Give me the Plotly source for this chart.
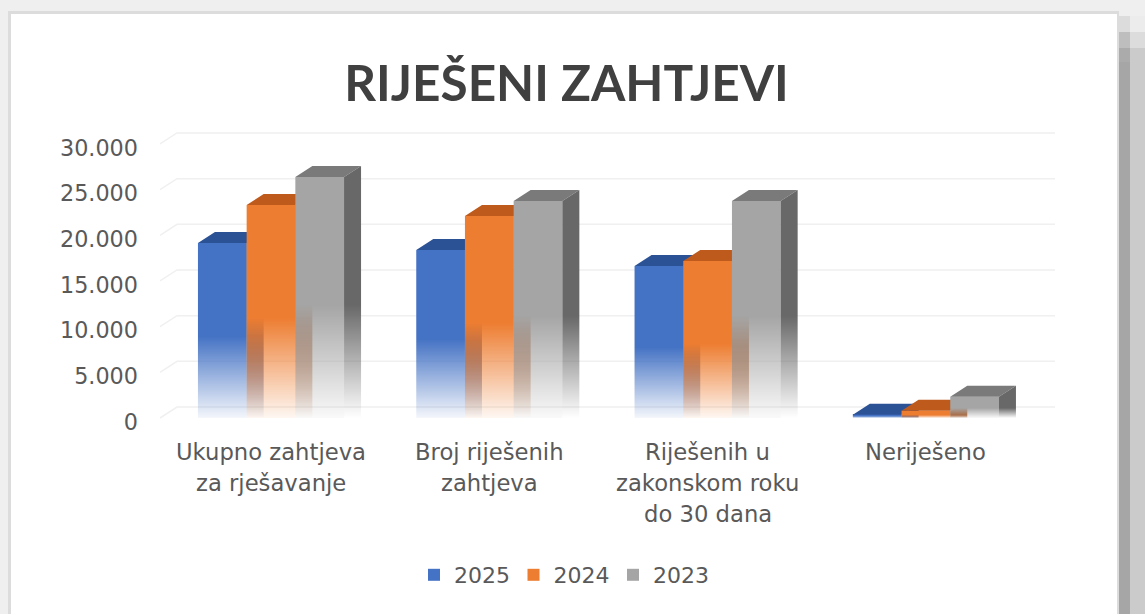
import plotly.graph_objects as go

categories = ["Ukupno zahtjeva\nza rješavanje", "Broj riješenih\nzahtjeva",
              "Riješenih u\nzakonskom roku\ndo 30 dana", "Neriješeno"]
years = ["2025", "2024", "2023"]
values_2025 = [19160, 18400, 16640, 350]
values_2024 = [23320, 22120, 17190, 800]
values_2023 = [26390, 23760, 23760, 2330]
tick_values = [0, 5000, 10000, 15000, 20000, 25000, 30000]
tick_labels = ["0", "5.000", "10.000", "15.000", "20.000", "25.000", "30.000"]

series = [values_2025, values_2024, values_2023]
front_rgb = [(68, 114, 196), (237, 125, 49), (165, 165, 165)]
top_rgb = [(44, 82, 150), (190, 90, 28), (122, 122, 122)]
side_rgb = [(40, 75, 140), (170, 82, 28), (104, 104, 104)]

W, H = 1145, 614
L, R, T, B = 160, 1055, 130, 428
CAT_PX = 218.3
BAR = 48.7 / CAT_PX
ZERO_PX, Y_SCALE = 418, 45.67 / 5000
X0 = -(271 - L) / CAT_PX
X1 = X0 + (R - L) / CAT_PX
Y0 = (ZERO_PX - B) / Y_SCALE
Y1 = (ZERO_PX - T) / Y_SCALE
DX, DY = 17 / CAT_PX, 11 / Y_SCALE
FADE_START, MIN_ALPHA = 0.47, 0.06
TEXT = "#595959"


def px_x(p):
    return (p - L) / (R - L)


def px_y(p):
    return (B - p) / (B - T)


def rgba(rgb, a):
    return f"rgba({rgb[0]},{rgb[1]},{rgb[2]},{a:.3f})"


def alpha(frac, floor):
    return floor + (1 - floor) * frac


fig = go.Figure()

# back wall grid lines, with their slanted floor part
for v in tick_values:
    fig.add_trace(go.Scatter(x=[X0, X0 + DX, X1], y=[v, v + DY, v + DY], mode="lines",
                             line=dict(color="#f0f0f0", width=1.5), showlegend=False,
                             hoverinfo="skip", yaxis="y"))

for s, vals in enumerate(series):
    axis = f"y{s + 2}"
    offset = (s - 1) * BAR
    bx, bbase, bh, bc, bw = [], [], [], [], []
    fades = [round(v * FADE_START * Y_SCALE) for v in vals]  # fade height in whole pixels
    # solid upper part first, so that the legend swatch takes the solid colour
    for c, v in enumerate(vals):
        thr = fades[c] / Y_SCALE
        bx.append(c + offset)
        bbase.append(thr)
        bh.append(v - thr)
        bc.append(rgba(front_rgb[s], 1))
        bw.append(BAR)
    # fading lower part, one pixel row per segment, for front and side face
    for c, v in enumerate(vals):
        n = fades[c]
        for k in range(n):
            lo = k / Y_SCALE
            bx += [c + offset, c + offset + BAR / 2 + DX / 2]
            bbase += [lo, lo]
            bh += [1 / Y_SCALE, 1 / Y_SCALE]
            bc += [rgba(front_rgb[s], alpha((k + 0.5) / n, MIN_ALPHA)),
                   rgba(side_rgb[s], alpha((k + 0.5) / n, 0.0))]
            bw += [BAR, DX]
    fig.add_trace(go.Bar(x=bx, y=bh, base=bbase, width=bw, name=years[s], yaxis=axis,
                         marker=dict(color=bc, line=dict(width=0)), hoverinfo="skip"))

    # top faces
    tx, ty = [], []
    for c, v in enumerate(vals):
        a, b = c + offset - BAR / 2, c + offset + BAR / 2
        tx += [a, b, b + DX, a + DX, a, None]
        ty += [v, v, v + DY, v + DY, v, None]
    fig.add_trace(go.Scatter(x=tx, y=ty, mode="lines", fill="toself", line=dict(width=0),
                             fillcolor=rgba(top_rgb[s], 1), showlegend=False,
                             hoverinfo="skip", yaxis=axis))
    # side faces: solid part
    sx, sy = [], []
    for c, v in enumerate(vals):
        b = c + offset + BAR / 2
        thr = fades[c] / Y_SCALE
        sx += [b, b + DX, b + DX, b, b, None]
        sy += [thr, thr, v + DY, v, thr, None]
    fig.add_trace(go.Scatter(x=sx, y=sy, mode="lines", fill="toself", line=dict(width=0),
                             fillcolor=rgba(side_rgb[s], 1), showlegend=False,
                             hoverinfo="skip", yaxis=axis))

annotations = []
for c, label in enumerate(categories):
    for i, line in enumerate(label.split("\n")):
        annotations.append(dict(x=c, y=0, xref="x", yref="y", text=line, showarrow=False,
                                xanchor="center", yanchor="middle", yshift=-(34 + 31 * i),
                                font=dict(family="DejaVu Sans", size=22.7, color=TEXT)))


def rect(x0, y0, x1, y1, fill, line=None):
    return dict(type="rect", xref="paper", yref="paper", layer="below",
                x0=px_x(x0), x1=px_x(x1), y0=px_y(y0), y1=px_y(y1), fillcolor=fill,
                line=dict(width=1 if line else 0, color=line or fill))


shapes = [
    rect(1119, 16, 1130, 32, "#dcdcdc"), rect(1119, 32, 1130, 48, "#bebebe"),
    rect(1119, 48, 1130, 62, "#ababab"), rect(1119, 62, 1130, 614, "#a6a6a6"),
    rect(1130, 16, 1145, 32, "#ececec"), rect(1130, 32, 1145, 48, "#dcdcdc"),
    rect(1130, 48, 1145, 614, "#cbcbcb"),
    rect(8, 11, 1119, 620, "#dcdcdc"),
    rect(11, 14, 1117, 620, "#ffffff"),
]

layout_y = dict(range=[Y0, Y1], fixedrange=True)
fig.update_layout(
    width=W, height=H, margin=dict(l=L, r=W - R, t=T, b=H - B),
    paper_bgcolor="#efefef", plot_bgcolor="rgba(0,0,0,0)", barmode="overlay",
    title=dict(text="RIJEŠENI ZAHTJEVI", x=566.5 / W, y=1 - 84 / H, xanchor="center",
               yanchor="middle", xref="container", yref="container",
               font=dict(family="Lato", size=49.5, color="#404040", weight=700)),
    xaxis=dict(range=[X0, X1], showgrid=False, zeroline=False, showticklabels=False,
               ticks="", showline=False, fixedrange=True),
    yaxis=dict(tickmode="array", tickvals=tick_values, ticktext=tick_labels, showgrid=False,
               zeroline=False, showline=False, ticks="", ticklabelstandoff=21,
               ticklabelshift=4, tickfont=dict(family="DejaVu Sans", size=22.3, color=TEXT),
               **layout_y),
    yaxis2=dict(overlaying="y", visible=False, **layout_y),
    yaxis3=dict(overlaying="y", visible=False, **layout_y),
    yaxis4=dict(overlaying="y", visible=False, **layout_y),
    legend=dict(orientation="h", x=px_x(414), y=px_y(575), xanchor="left", yanchor="middle",
                bgcolor="rgba(0,0,0,0)", entrywidth=54.5, entrywidthmode="pixels",
                font=dict(family="DejaVu Sans", size=22, color=TEXT)),
    annotations=annotations, shapes=shapes, showlegend=True,
)

fig.write_html("out.html", config={"displayModeBar": False},
               post_script="document.body.style.margin='0';document.body.style.overflow='hidden';")
